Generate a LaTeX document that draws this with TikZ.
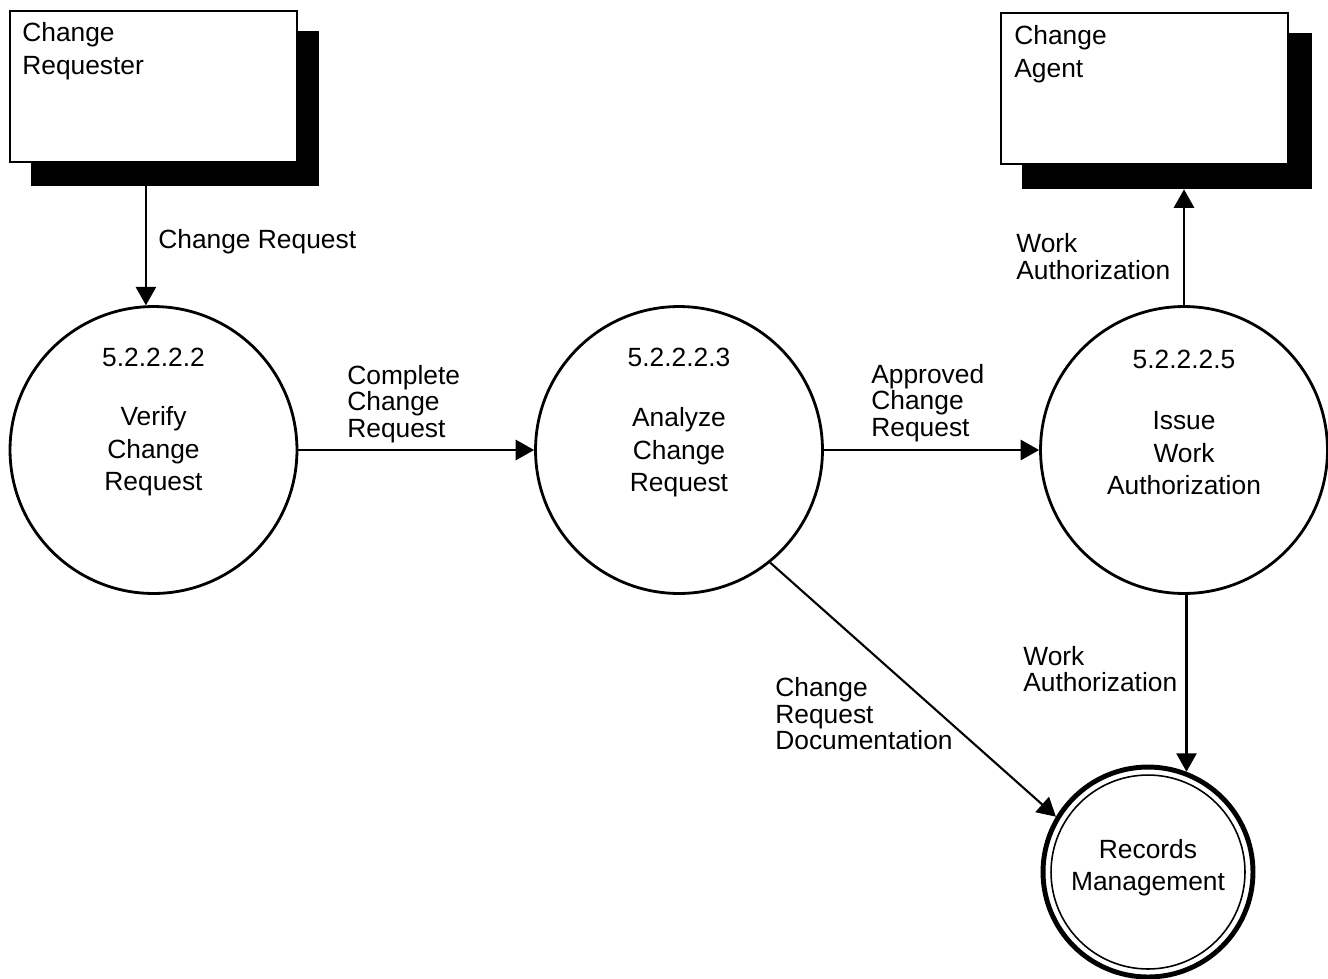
\documentclass[tikz,border=0pt]{standalone}
\usepackage{fontspec}
\setmainfont{Liberation Sans}
\usetikzlibrary{arrows.meta}
\begin{document}
\begin{tikzpicture}[x=0.02cm, y=-0.02cm,
  every node/.style={inner sep=0pt},
  lbl/.style={font=\fontsize{15}{15.1}\selectfont, align=left, anchor=west, yshift=-0.05cm},
  ctext/.style={font=\fontsize{15}{18.5}\selectfont, align=center, yshift=-0.05cm},
  etext/.style={font=\fontsize{15}{18.8}\selectfont, align=left, anchor=west, yshift=-0.05cm},
  entity/.style={draw, line width=1.5pt, fill=white, minimum width=5.74cm, minimum height=3.02cm},
  shadowbox/.style={fill=black, draw=none},
  proc/.style={circle, draw, line width=1.6pt, minimum size=5.74cm},
  flow/.style={line width=1.2pt, -{Triangle[length=10.5pt,width=11.5pt]}},
]
\useasboundingbox (0,0) rectangle (1328,978);

% external entities with their solid drop shadows
\node[shadowbox, minimum width=5.76cm, minimum height=3.10cm] (reqsh) at (175,108.5) {};
\node[entity] (req) at (153.5,86.5) {};
\node[etext] (reqtxt) at (22,48.5) {Change\\Requester};

\node[shadowbox, minimum width=5.80cm, minimum height=3.12cm] (agsh) at (1167,111) {};
\node[entity] (ag) at (1144.5,88.5) {};
\node[etext] (agtxt) at (1014,51.5) {Change\\Agent};

% processes
\node[proc] (ver) at (153.5,450) {};
\node[ctext] (vernum) at (153.5,355) {5.2.2.2.2};
\node[ctext] (vertxt) at (153.5,449) {Verify\\Change\\Request};

\node[proc] (ana) at (679,450) {};
\node[ctext] (ananum) at (679,355) {5.2.2.2.3};
\node[ctext] (anatxt) at (679,450) {Analyze\\Change\\Request};

\node[proc] (iss) at (1184,450) {};
\node[ctext] (issnum) at (1184,357) {5.2.2.2.5};
\node[ctext] (isstxt) at (1184,451) {Issue\\Work\\Authorization};

% data store
\node[circle, draw, line width=2.8pt, minimum size=4.2cm] (rec) at (1148,872) {};
\node[circle, draw, line width=0.9pt, minimum size=3.88cm] (recin) at (1148,872) {};
\node[ctext] (rectxt) at (1148,865) {Records\\Management};

% data flows
\draw[flow] (reqsh.south -| ver.93) -- (ver.93);
\draw[flow] (ver) -- (ana);
\draw[flow] (ana) -- (iss);
\draw[flow] (iss.north) -- (iss.north |- agsh.south);
\draw[flow] (rec.69 |- iss.south) -- (rec.69);
\draw[flow] (ana.-51) -- (rec.149);

% flow labels
\node[lbl] (l1) at (158,239) {Change Request};
\node[lbl] (l2) at (347,401.5) {Complete\\Change\\Request};
\node[lbl] (l3) at (871,400.5) {Approved\\Change\\Request};
\node[lbl] (l4) at (1016,254) {Work\\Authorization};
\node[lbl] (l5) at (1023,666.5) {Work\\Authorization};
\node[lbl] (l6) at (775,711.5) {Change\\Request\\Documentation};
\end{tikzpicture}
\end{document}
